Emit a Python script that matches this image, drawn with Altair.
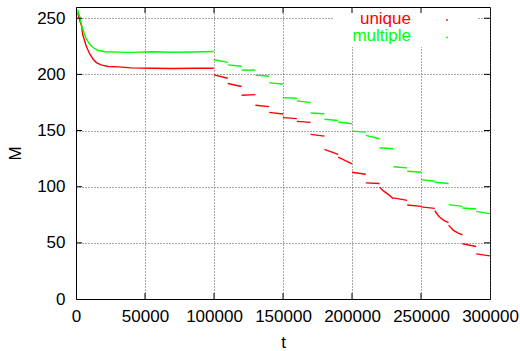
import altair as alt
import pandas as pd

# ---- data ----
# early relaxation + plateau (segment 0), then 20 steps of 10000 each
uniq_early_t = [1233, 2902, 4135, 4861, 6022, 7037, 8488, 10157, 12551, 15018, 18645, 23434, 30690, 40000, 55000, 70000, 85000, 99800]
uniq_early_m = [255.1, 247.3, 242.9, 235.5, 231.1, 226.6, 222.2, 217.7, 213.3, 210.3, 208.2, 207.0, 206.7, 205.8, 205.4, 205.2, 205.4, 205.5]
mult_early_t = [1233, 2684, 3628, 4571, 5804, 7037, 8488, 10157, 12551, 16179, 21040, 30690, 40000, 55000, 70000, 85000, 99800]
mult_early_m = [257.5, 251.3, 245.9, 241.5, 237.0, 233.1, 229.5, 226.6, 223.7, 221.3, 220.1, 219.8, 219.6, 220.1, 219.7, 219.9, 220.4]

# stepped part: each step listed as (t, M) points, step index in *_seg
uniq_t = [100000, 110000, 110000, 120000, 120000, 130000, 130000, 140000, 140000, 150000,
          150000, 160000, 160000, 170000, 170000, 180000, 180000, 190000, 190000, 200000,
          200000, 210000, 210000, 220000, 220000, 223000, 226500, 230000, 230000, 240000,
          240000, 250000, 250000, 260000, 260000, 263000, 266500, 270000,
          270000, 273500, 277000, 280000, 280000, 290000, 290000, 300000]
uniq_m = [199.6, 196.6, 191.9, 189.2, 181.4, 182.0, 172.5, 171.3, 166.2, 164.7,
          161.5, 160.6, 158.2, 157.3, 146.6, 145.0, 133.2, 128.7, 126.3, 120.4,
          112.9, 111.1, 103.4, 102.8, 99.5, 96.0, 92.9, 89.3, 90.0, 87.8,
          83.7, 82.5, 82.0, 80.7, 78.6, 73.5, 70.0, 68.0,
          65.8, 61.0, 58.7, 57.2, 49.2, 46.7, 40.2, 38.4]
uniq_seg = [1, 1, 2, 2, 3, 3, 4, 4, 5, 5,
            6, 6, 7, 7, 8, 8, 9, 9, 10, 10,
            11, 11, 12, 12, 13, 13, 13, 13, 14, 14,
            15, 15, 16, 16, 17, 17, 17, 17,
            18, 18, 18, 18, 19, 19, 20, 20]

mult_start = [213.0, 208.5, 203.8, 199.3, 192.4, 179.3, 176.4, 165.6, 160.0, 157.6,
              149.5, 145.7, 134.7, 117.7, 113.8, 106.3, 103.9, 84.0, 81.0, 78.0]
mult_end = [210.7, 207.3, 203.8, 198.4, 191.5, 178.7, 174.9, 165.0, 159.0, 156.1,
            148.6, 142.7, 133.8, 116.8, 112.9, 104.8, 102.8, 82.5, 80.2, 76.0]
step_start = [100000 + 10000 * i for i in range(20)]

x_ticks = [50000, 100000, 150000, 200000, 250000]
y_ticks = [50, 100, 150, 200, 250]
legend_labels = ["unique", "multiple"]
legend_colors = ["#ff0000", "#00ff00"]

# ---- build table ----
rows = []
for t, m in zip(uniq_early_t, uniq_early_m):
    rows.append({"t": t, "M": m, "series": "unique", "seg": "u0"})
for t, m, s in zip(uniq_t, uniq_m, uniq_seg):
    rows.append({"t": t, "M": m, "series": "unique", "seg": f"u{s}"})
for t, m in zip(mult_early_t, mult_early_m):
    rows.append({"t": t, "M": m, "series": "multiple", "seg": "m0"})
for i, (t0, a, b) in enumerate(zip(step_start, mult_start, mult_end)):
    rows.append({"t": t0, "M": a, "series": "multiple", "seg": f"m{i+1}"})
    rows.append({"t": t0 + 10000, "M": b, "series": "multiple", "seg": f"m{i+1}"})
df = pd.DataFrame(rows)

W, H = 414, 292
FONT = "Liberation Sans"
xscale = alt.Scale(domain=[0, 300000], nice=False, zero=False)
yscale = alt.Scale(domain=[0, 260], nice=False)

lines = alt.Chart(df).mark_line(strokeWidth=1.4, clip=True).encode(
    x=alt.X("t:Q", scale=xscale, title="t",
            axis=alt.Axis(values=[0, 50000, 100000, 150000, 200000, 250000, 300000], format="d",
                          grid=True, ticks=False, labelPadding=9, titlePadding=10,
                          labelOverlap=False, labelFlush=False, labelBound=False)),
    y=alt.Y("M:Q", scale=yscale, title="M",
            axis=alt.Axis(values=[0, 50, 100, 150, 200, 250], grid=True, ticks=False,
                          labelPadding=11, titlePadding=12, labelOverlap=False, labelFlush=False)),
    color=alt.Color("series:N", scale=alt.Scale(domain=legend_labels, range=legend_colors), legend=None),
    detail="seg:N",
)

# blank area behind the key (gnuplot clears it)
key_bg = alt.Chart(pd.DataFrame({"a": [0]})).mark_rect(color="white").encode(
    x=alt.value(258), x2=alt.value(401), y=alt.value(1), y2=alt.value(40)
)

yt = pd.DataFrame({"v": y_ticks})
xt = pd.DataFrame({"v": x_ticks})
tick_l = alt.Chart(yt).mark_rule(color="black").encode(
    y=alt.Y("v:Q", scale=yscale, title="M"), x=alt.value(0), x2=alt.value(6))
tick_r = alt.Chart(yt).mark_rule(color="black").encode(
    y=alt.Y("v:Q", scale=yscale, title="M"), x=alt.value(W - 6), x2=alt.value(W))
tick_b = alt.Chart(xt).mark_rule(color="black").encode(
    x=alt.X("v:Q", scale=xscale, title="t"), y=alt.value(H), y2=alt.value(H - 6))
tick_t = alt.Chart(xt).mark_rule(color="black").encode(
    x=alt.X("v:Q", scale=xscale, title="t"), y=alt.value(0), y2=alt.value(6))

leg = pd.DataFrame({"label": legend_labels, "color": legend_colors, "ty": [16.5, 34], "dy": [13, 30.5]})
leg_text = alt.Chart(leg).mark_text(align="right", baseline="alphabetic", fontSize=17, font=FONT).encode(
    x=alt.value(335), y=alt.Y("ty:Q", scale=None), text="label:N",
    color=alt.Color("color:N", scale=None))
leg_dot = alt.Chart(leg).mark_square(size=3, opacity=1).encode(
    x=alt.value(371), y=alt.Y("dy:Q", scale=None),
    color=alt.Color("color:N", scale=None))

chart = alt.layer(key_bg, lines, tick_l, tick_r, tick_b, tick_t, leg_text, leg_dot).properties(
    width=W, height=H,
    autosize=alt.AutoSizeParams(type="none"),
    padding={"left": 76, "top": 7, "right": 30, "bottom": 52},
).configure(background="white").configure_view(stroke="black", strokeWidth=1).configure_axis(
    labelFont=FONT, titleFont=FONT, labelFontSize=17, titleFontSize=17,
    titleFontWeight="normal", labelColor="black", titleColor="black",
    domainColor="black", domainWidth=1, gridColor="#555", gridDash=[1, 2], gridOpacity=1,
    gridWidth=1,
)

chart.save("out.html", embed_options={"renderer": "svg", "actions": False})
